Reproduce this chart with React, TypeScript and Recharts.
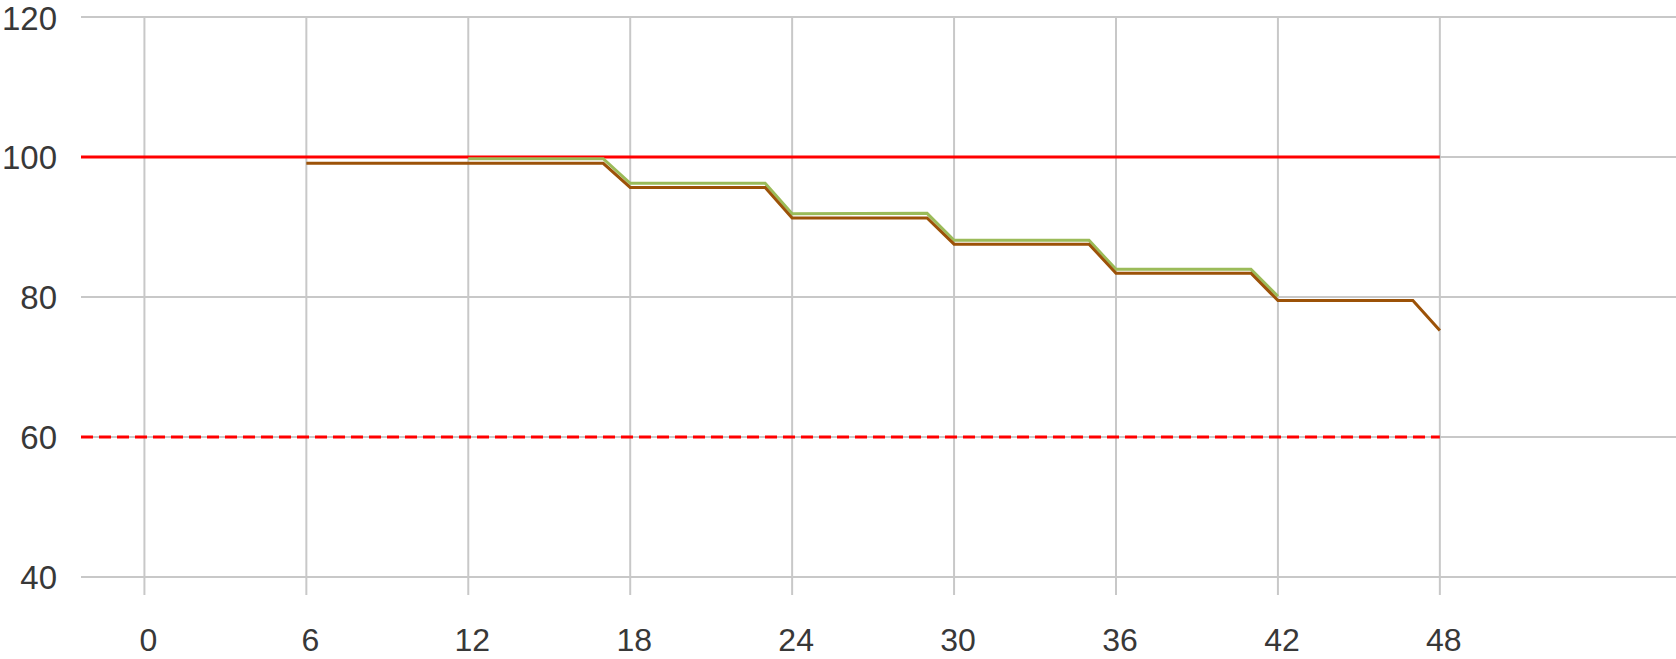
import React from 'react';
import { LineChart, Line, XAxis, YAxis, CartesianGrid, ReferenceLine } from 'recharts';

document.body.style.margin = '0';

const X_TICKS = [0, 6, 12, 18, 24, 30, 36, 42, 48];
const Y_TICKS = [40, 60, 80, 100, 120];

// months for the two step series
const brownMonths = [6, 17, 18, 23, 24, 29, 30, 35, 36, 41, 42, 47, 48];
const brownValues = [99.1, 99.1, 95.65, 95.65, 91.3, 91.3, 87.55, 87.55, 83.4, 83.4, 79.5, 79.5, 75.2];

const greenMonths = [12, 17, 18, 23, 24, 29, 30, 35, 36, 41, 42];
const greenValues = [99.75, 99.75, 96.25, 96.25, 91.9, 91.95, 88.1, 88.1, 83.95, 83.95, 80.1];

// limit lines
const limitMonths = [-2.35, 48];
const upperLimit = [100, 100];
const lowerLimit = [60, 60];

const X_DOMAIN: [number, number] = [-2.35, 56.75];

const toPoints = (xs: number[], ys: number[]) => xs.map((x, i) => ({ x, y: ys[i] }));

const brownData = toPoints(brownMonths, brownValues);
const greenData = toPoints(greenMonths, greenValues);
const upperData = toPoints(limitMonths, upperLimit);
const lowerData = toPoints(limitMonths, lowerLimit);

const FONT = '"Liberation Sans", Arial, sans-serif';
const GRID = '#c8c8c8';
const TEXT = '#383838';

export default function App() {
  return (
    <div style={{ width: 1676, height: 659, background: '#fff' }}>
      <LineChart width={1676} height={659} margin={{ top: 17, right: 0, left: 0, bottom: 0 }}>
        <CartesianGrid stroke={GRID} strokeWidth={2} vertical={false} />
        {X_TICKS.map((t) => (
          <ReferenceLine key={t} x={t} stroke={GRID} strokeWidth={2} />
        ))}
        <XAxis
          type="number"
          dataKey="x"
          domain={X_DOMAIN}
          ticks={X_TICKS}
          allowDataOverflow
          height={82}
          axisLine={false}
          tickLine={{ stroke: GRID, strokeWidth: 2 }}
          tickSize={18}
          tickMargin={33}
          tick={{ fontSize: 32, fill: TEXT, fontFamily: FONT, dx: 4 }}
        />
        <YAxis
          type="number"
          domain={[40, 120]}
          ticks={Y_TICKS}
          width={81}
          axisLine={false}
          tickLine={false}
          tickSize={0}
          tickMargin={24}
          tick={{ fontSize: 33, fill: TEXT, fontFamily: FONT }}
        />
        <Line data={upperData} dataKey="y" stroke="#ff0000" strokeWidth={3} dot={false} isAnimationActive={false} />
        <Line data={lowerData} dataKey="y" stroke="#ff0000" strokeWidth={3} strokeDasharray="12 6" dot={false} isAnimationActive={false} />
        <Line data={greenData} dataKey="y" stroke="#9bbb59" strokeWidth={3} dot={false} isAnimationActive={false} />
        <Line data={brownData} dataKey="y" stroke="#9c5208" strokeWidth={3} dot={false} isAnimationActive={false} />
      </LineChart>
    </div>
  );
}
